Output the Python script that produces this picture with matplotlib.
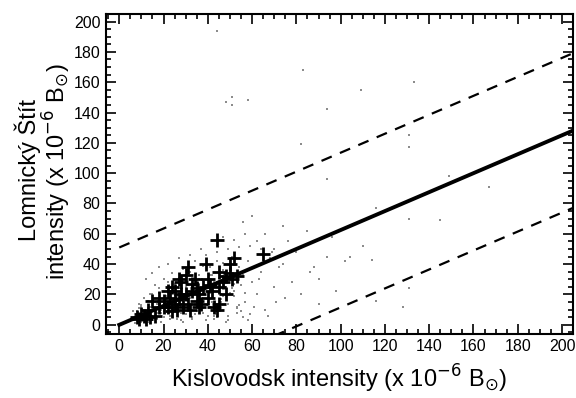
import numpy as np
import matplotlib
matplotlib.use("Agg")
from matplotlib import pyplot as plt
from matplotlib.ticker import MultipleLocator

# daily plage intensities, both stations (x 10^-6 B_sun)
plus_x = [44, 65, 52, 50, 39, 31, 30, 34, 28, 24, 22, 18, 15, 13, 10, 8, 12, 16, 20, 25,
          27, 30, 33, 35, 37, 40, 42, 45, 47, 48, 50, 45, 40, 38, 26, 22, 29, 32, 36, 44,
          45, 48, 51, 53, 27, 23, 25, 20, 18, 14, 9, 11, 33, 36, 41, 43, 31, 35, 24, 28]
plus_y = [56, 47, 44, 40, 40, 38, 33, 30, 28, 25, 22, 18, 16, 10, 7, 5, 4, 6, 12, 14,
          17, 20, 22, 16, 14, 18, 22, 25, 28, 32, 34, 35, 30, 25, 10, 12, 12, 10, 12, 10,
          14, 20, 30, 32, 30, 18, 22, 16, 12, 5, 4, 6, 27, 20, 26, 12, 14, 24, 9, 20]

# background single-day measurements (grey dots)
grey_x = [6, 8, 9, 10, 11, 12, 13, 14, 15, 16, 17, 18, 19, 20, 21, 22, 23, 24, 25, 26,
          27, 28, 29, 30, 31, 32, 33, 34, 35, 36, 37, 38, 39, 40, 41, 42, 43, 44, 45, 46,
          47, 48, 49, 50, 51, 52, 53, 54, 55, 56, 57, 58, 60, 62, 64, 66, 68, 70, 72, 75,
          7, 9, 12, 14, 17, 19, 21, 23, 26, 28, 31, 33, 35, 38, 41, 43, 46, 49, 52, 55,
          58, 61, 63, 67, 71, 74, 78, 82, 86, 90, 94, 98, 10, 13, 16, 20, 24, 29, 34, 39,
          44, 49, 54, 59, 64, 69, 12, 15, 18, 22, 27, 32, 37, 42, 47, 52, 57, 62,
          8, 11, 14, 16, 19, 21, 24, 26, 29, 31, 34, 36, 39, 41, 44, 46, 49, 51, 54, 56,
          9, 12, 15, 18, 20, 23, 25, 28, 30, 33, 35, 38, 40, 43, 45, 48, 50, 53, 55, 59,
          13, 17, 22, 27, 32, 37, 42, 47, 52, 57, 6, 10, 15, 19, 24, 30, 36, 41, 47, 53,
          44, 48, 51, 58, 51, 83, 133, 109, 94, 131, 131, 82, 94, 149, 167, 116, 131, 145,
          114, 102, 128, 131, 90, 116, 76, 80, 85, 88, 96, 104, 110, 66, 70, 74, 60, 56]
grey_y = [3, 9, 14, 2, 18, 6, 11, 20, 3, 15, 8, 24, 12, 5, 19, 28, 9, 15, 22, 4,
          31, 12, 18, 7, 26, 35, 14, 21, 9, 30, 17, 39, 24, 6, 33, 15, 28, 42, 10, 20,
          36, 25, 14, 30, 45, 19, 8, 38, 26, 33, 15, 42, 28, 20, 35, 10, 44, 25, 38, 18,
          1, 5, 2, 8, 4, 10, 14, 6, 10, 3, 16, 5, 20, 8, 12, 4, 17, 6, 22, 9,
          3, 12, 30, 6, 15, 40, 28, 20, 35, 14, 45, 22, 12, 16, 26, 30, 34, 37, 42, 46,
          48, 50, 51, 52, 50, 48, 30, 34, 38, 40, 44, 46, 50, 55, 58, 56, 60, 55,
          7, 3, 12, 9, 2, 16, 6, 19, 2, 11, 7, 26, 3, 21, 5, 15, 3, 24, 13, 5,
          11, 8, 6, 21, 9, 4, 27, 8, 13, 4, 29, 11, 15, 6, 31, 2, 21, 11, 35, 7,
          2, 14, 8, 24, 18, 22, 33, 19, 27, 21, 9, 13, 20, 8, 17, 25, 33, 38, 41, 12,
          194, 147, 150, 148, 145, 168, 160, 155, 142, 125, 117, 119, 96, 98, 91, 77, 70, 69,
          43, 42, 12, 24, 30, 16, 55, 48, 62, 38, 58, 45, 52, 60, 50, 65, 72, 68]

line_x = [0, 210]
fit_slope = 0.625
band = 51

plt.rcParams['font.family'] = ['Liberation Sans', 'DejaVu Sans']
fig = plt.figure(figsize=(5.76, 3.98), dpi=100)
ax = fig.add_axes([0.184, 0.161, 0.811, 0.804])

ax.scatter(grey_x, grey_y, s=2.5, color='0.55', marker='s', linewidths=0)
ax.plot(plus_x, plus_y, '+', color='k', markersize=10, mew=2)

lx = np.array(line_x)
ax.plot(lx, fit_slope * lx, color='k', lw=2.8)
ax.plot(lx, fit_slope * lx + band, color='k', lw=1.6, dashes=(5, 4))
ax.plot(lx, fit_slope * lx - band, color='k', lw=1.6, dashes=(5, 4))

ax.set_xlim(-6, 205)
ax.set_ylim(-6, 205)
for a in (ax.xaxis, ax.yaxis):
    a.set_major_locator(MultipleLocator(20))
    a.set_minor_locator(MultipleLocator(5))
ax.tick_params(which='both', direction='in', top=True, right=True, labelsize=11.5, width=1.2)
ax.tick_params(which='major', length=7, pad=4)
ax.tick_params(which='minor', length=3.5)
for s in ax.spines.values():
    s.set_linewidth(1.5)

unit = r'(x 10$^{-6}$ B$_{\odot}$)'
ax.set_xlabel('Kislovodsk intensity ' + unit, fontsize=17, labelpad=6)
fig.text(28 / 576, 1 - 170 / 398, 'Lomnický Štít', fontsize=17, rotation=90,
         ha='center', va='center')
fig.text(57 / 576, 1 - 172 / 398, 'intensity ' + unit, fontsize=17, rotation=90,
         ha='center', va='center')

fig.savefig('out.png', dpi=100)
